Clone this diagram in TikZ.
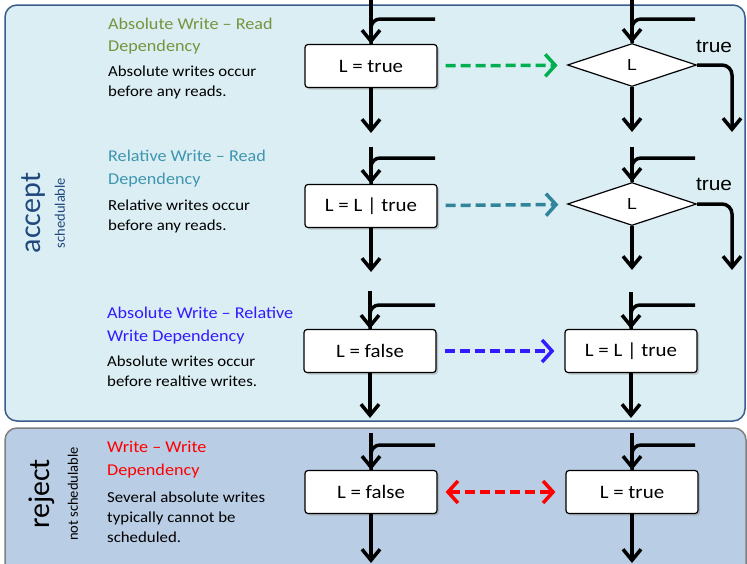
\documentclass[tikz,border=0pt]{standalone}
\usepackage{fontspec}
\setmainfont[FakeStretch=1.1]{Carlito}
\newfontfamily\sidefont{Carlito}
\newfontfamily\arialfont[FakeStretch=1.1]{Liberation Sans}
\usetikzlibrary{shapes.geometric,arrows.meta,shadows}
\definecolor{acceptfill}{RGB}{219,238,244}
\definecolor{acceptrule}{RGB}{56,93,138}
\definecolor{rejectfill}{RGB}{185,205,229}
\definecolor{rejectrule}{RGB}{127,127,127}
\definecolor{acceptblue}{RGB}{31,73,125}
\definecolor{awrgreen}{RGB}{119,147,60}
\definecolor{awrarrow}{RGB}{0,176,80}
\definecolor{rwrteal}{RGB}{62,150,175}
\definecolor{rwrarrow}{RGB}{49,133,155}
\definecolor{awwblue}{RGB}{51,26,255}
\definecolor{wwred}{RGB}{255,0,0}
\tikzset{panel/.style={rounded corners=12pt, line width=1.5pt}}
\tikzset{stmt/.style={draw, fill=white, rounded corners=3pt, line width=1.2pt, minimum width=132pt, minimum height=43pt, font=\fontsize{19}{19}\selectfont, drop shadow={shadow xshift=2pt, shadow yshift=-2pt, fill=black!40, opacity=.5}}}
\tikzset{test/.style={draw, fill=white, diamond, aspect=2.95, line width=1.2pt, minimum width=129pt, minimum height=43pt, inner sep=0pt, font=\arialfont\fontsize{16}{16}\selectfont}}
\tikzset{heading/.style={anchor=base west, align=left, inner sep=0pt, font=\fontsize{16.5}{22.5}\selectfont}}
\tikzset{note/.style={anchor=base west, align=left, inner sep=0pt, font=\fontsize{15.3}{20}\selectfont}}
\tikzset{truelabel/.style={anchor=base, inner sep=0pt, font=\arialfont\fontsize{19}{19}\selectfont}}
\tikzset{sidelabel/.style={rotate=90, inner sep=0pt}}
\tikzset{flow/.style={line width=3.5pt, -{Straight Barb[length=11pt, width=18pt]}}}
\tikzset{feed/.style={line width=3.5pt, rounded corners=9pt}}
\tikzset{dep/.style={line width=3.5pt, dash pattern=on 10pt off 5pt, shorten <=8pt, shorten >=10pt}}
\tikzset{deptip/.tip={Straight Barb[length=10pt, width=22pt]}}

\begin{document}
\begin{tikzpicture}[x=1pt, y=-1pt]
        \useasboundingbox (0,0) rectangle (747,563);

        % panels
        \draw[panel, fill=acceptfill, draw=acceptrule] (5,5) rectangle (745,421);
        \draw[panel, fill=rejectfill, draw=rejectrule] (5,428) rectangle (746,590);

        \node[sidelabel, text=acceptblue, font=\sidefont\fontsize{30}{30}\selectfont] (acc) at (33,213) {accept};
        \node[sidelabel, text=acceptblue, font=\sidefont\fontsize{14.5}{14.5}\selectfont] (sch) at (60,213) {schedulable};
        \node[sidelabel, text=black, font=\sidefont\fontsize{30}{30}\selectfont] (rej) at (42,494) {reject};
        \node[sidelabel, text=black, font=\sidefont\fontsize{14.5}{14.5}\selectfont] (nsch) at (73,494) {not schedulable};

        % descriptions (anchored at the last baseline)
        \node[heading, text=awrgreen] (h1) at (108,51.5) {Absolute Write -- Read\\Dependency};
        \node[note] (n1) at (108,96) {Absolute writes occur\\before any reads.};
        \node[heading, text=rwrteal] (h2) at (108,184) {Relative Write -- Read\\Dependency};
        \node[note] (n2) at (108,230) {Relative writes occur\\before any reads.};
        \node[heading, text=awwblue] (h3) at (107,341) {Absolute Write -- Relative\\Write Dependency};
        \node[note] (n3) at (107,386) {Absolute writes occur\\before realtive writes.};
        \node[heading, text=wwred] (h4) at (107,475) {Write -- Write\\Dependency};
        \node[note] (n4) at (107,542) {Several absolute writes\\typically cannot be\\scheduled.};

        % left column
        \node[stmt] (L1) at (371,66) {L = true};
        \node[stmt] (L2) at (371,206) {L = L | true};
        \node[stmt] (L3) at (370,351) {L = false};
        \node[stmt] (L4) at (371,492) {L = false};

        \coordinate (inL1) at (371,0);
        \coordinate (jL1) at (435,19);
        \coordinate (outL1) at (371,133);
        \coordinate (inL2) at (371,147);
        \coordinate (jL2) at (435,158);
        \coordinate (outL2) at (371,272);
        \coordinate (inL3) at (370,291);
        \coordinate (jL3) at (435,305);
        \coordinate (outL3) at (370,418);
        \coordinate (inL4) at (371,433);
        \coordinate (jL4) at (435,445);
        \coordinate (outL4) at (371,563);

        \draw [flow] (inL1) -- (L1);
        \draw [feed] (jL1) -| (L1.north);
        \draw [flow] (L1) -- (outL1);
        \draw [flow] (inL2) -- (L2);
        \draw [feed] (jL2) -| (L2.north);
        \draw [flow] (L2) -- (outL2);
        \draw [flow] (inL3) -- (L3);
        \draw [feed] (jL3) -| (L3.north);
        \draw [flow] (L3) -- (outL3);
        \draw [flow] (inL4) -- (L4);
        \draw [feed] (jL4) -| (L4.north);
        \draw [flow] (L4) -- (outL4);

        % right column
        \node[test] (D1) at (632,65) {L};
        \node[test] (D2) at (632,204) {L};
        \node[stmt] (R3) at (631,351) {L = L | true};
        \node[stmt] (R4) at (632,492) {L = true};

        \node[truelabel] (t1) at (714,52) {true};
        \node[truelabel] (t2) at (714,190) {true};

        \coordinate (inR1) at (632,0);
        \coordinate (jR1) at (695,19);
        \coordinate (outR1) at (632,132);
        \coordinate (brR1) at (732,132);
        \coordinate (inR2) at (632,147);
        \coordinate (jR2) at (695,158);
        \coordinate (outR2) at (632,270);
        \coordinate (brR2) at (732,270);
        \coordinate (inR3) at (631,292);
        \coordinate (jR3) at (695,305);
        \coordinate (outR3) at (631,418);
        \coordinate (inR4) at (632,433);
        \coordinate (jR4) at (695,445);
        \coordinate (outR4) at (632,563);

        \draw [flow] (inR1) -- (D1);
        \draw [feed] (jR1) -| (D1.north);
        \draw [flow] (D1) -- (outR1);
        \draw [flow, rounded corners=10pt] (D1.east) -| (brR1);
        \draw [flow] (inR2) -- (D2);
        \draw [feed] (jR2) -| (D2.north);
        \draw [flow] (D2) -- (outR2);
        \draw [flow, rounded corners=10pt] (D2.east) -| (brR2);
        \draw [flow] (inR3) -- (R3);
        \draw [feed] (jR3) -| (R3.north);
        \draw [flow] (R3) -- (outR3);
        \draw [flow] (inR4) -- (R4);
        \draw [feed] (jR4) -| (R4.north);
        \draw [flow] (R4) -- (outR4);

        % dependencies
        \draw [dep, awrarrow, -{deptip}] (L1) -- (D1);
        \draw [dep, rwrarrow, -{deptip}] (L2) -- (D2);
        \draw [dep, awwblue, -{deptip}] (L3) -- (R3);
        \draw [dep, wwred, {deptip}-{deptip}] (L4) -- (R4);
\end{tikzpicture}
\end{document}
